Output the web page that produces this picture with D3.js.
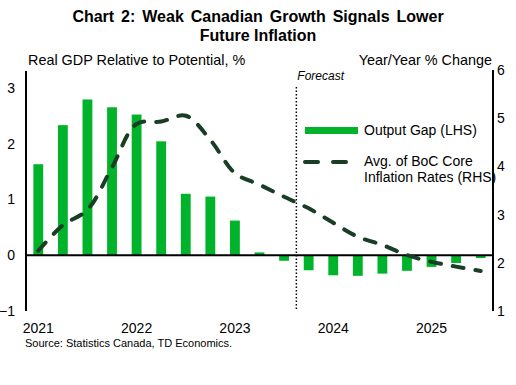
<!DOCTYPE html>
<html>
<head>
<meta charset="utf-8">
<script src="https://cdn.jsdelivr.net/npm/d3@7"></script>
<style>
  body { margin: 0; background: #fff; }
  text { font-family: "Liberation Sans", Arial, sans-serif; fill: #000; }
</style>
</head>
<body>
<div class="chart"></div>
<script>
// quarterly, 2021Q1 .. 2025Q3
var quarters = ["2021Q1","2021Q2","2021Q3","2021Q4","2022Q1","2022Q2","2022Q3","2022Q4",
                "2023Q1","2023Q2","2023Q3","2023Q4","2024Q1","2024Q2","2024Q3","2024Q4",
                "2025Q1","2025Q2","2025Q3"];
var outputGap = [1.63, 2.33, 2.79, 2.65, 2.52, 2.04, 1.10, 1.05, 0.62, 0.05,
                 -0.10, -0.27, -0.36, -0.37, -0.33, -0.28, -0.21, -0.14, -0.05];
var coreInflation = [2.25, 2.78, 3.10, 3.98, 4.88, 4.93, 5.05, 4.55, 3.86, 3.62,
                     3.37, 3.13, 2.83, 2.54, 2.37, 2.16, 2.02, 1.92, 1.83];
var yearLabels = {"2021Q1": "2021", "2022Q1": "2022", "2023Q1": "2023", "2024Q1": "2024", "2025Q1": "2025"};
var leftTicks = [-1, 0, 1, 2, 3];
var rightTicks = [1, 2, 3, 4, 5, 6];
var forecastStart = "2023Q4";

var width = 516, height = 385;
var margin = {top: 71, right: 23, bottom: 74, left: 26};
var fontFam = '"Liberation Sans", Arial, sans-serif';

function drawGraph() {
    var svg = d3.select('.chart')
      .append('svg')
        .attr('width', width)
        .attr('height', height);

    var x = d3.scaleBand()
        .domain(quarters)
        .range([margin.left, width - margin.right])
        .paddingInner(0.6)
        .paddingOuter(0.3);

    var yL = d3.scaleLinear().domain([-1, 3.3]).range([height - margin.bottom, margin.top]);
    var yR = d3.scaleLinear().domain([1, 6]).range([height - margin.bottom, margin.top - 1]);

    // titles
    svg.append('text').attr('x', 258).attr('y', 22).attr('text-anchor', 'middle')
        .style('font-size', '16px').style('font-weight', 'bold').style('word-spacing', '2.5px')
        .text('Chart 2: Weak Canadian Growth Signals Lower');
    svg.append('text').attr('x', 258).attr('y', 41).attr('text-anchor', 'middle')
        .style('font-size', '16px').style('font-weight', 'bold')
        .text('Future Inflation');
    svg.append('text').attr('x', 28).attr('y', 65).style('font-size', '14.4px')
        .text('Real GDP Relative to Potential, %');
    svg.append('text').attr('x', 492).attr('y', 65).attr('text-anchor', 'end').style('font-size', '14.4px')
        .text('Year/Year % Change');

    // bars
    svg.selectAll('.bar')
      .data(quarters)
      .enter()
      .append('rect')
        .attr('x', function(d) { return x(d); })
        .attr('width', x.bandwidth())
        .attr('y', function(d, i) { return yL(Math.max(0, outputGap[i])); })
        .attr('height', function(d, i) { return Math.abs(yL(outputGap[i]) - yL(0)); })
        .attr('fill', '#00b32a');

    // forecast divider
    var fx = x(forecastStart) - x.step() * x.paddingInner() / 2;
    svg.append('line')
        .attr('x1', fx).attr('x2', fx)
        .attr('y1', 87).attr('y2', yL(-1))
        .attr('stroke', '#000').attr('stroke-width', 1.5)
        .attr('stroke-dasharray', '1.5,2');
    svg.append('text').attr('x', fx + 1).attr('y', 80)
        .style('font-size', '12px').style('font-style', 'italic')
        .text('Forecast');

    // zero line and axes
    svg.append('line')
        .attr('x1', margin.left).attr('x2', width - margin.right)
        .attr('y1', yL(0)).attr('y2', yL(0))
        .attr('stroke', '#000').attr('stroke-width', 2);

    svg.append('g')
        .attr('transform', 'translate(' + margin.left + ',0)')
        .call(d3.axisLeft(yL).tickValues(leftTicks).tickFormat(d3.format('d')).tickSize(0).tickPadding(11))
        .call(function(g) {
            g.select('.domain').attr('stroke-width', 2).attr('d', 'M0,' + yL(3.3) + 'V' + yL(-1));
            g.selectAll('text').style('font-size', '14px').style('font-family', fontFam);
        });

    svg.append('g')
        .attr('transform', 'translate(' + (width - margin.right) + ',0)')
        .call(d3.axisRight(yR).tickValues(rightTicks).tickFormat(d3.format('d')).tickSize(0).tickPadding(4))
        .call(function(g) {
            g.select('.domain').attr('stroke-width', 2).attr('d', 'M0,' + yR(6) + 'V' + yR(1));
            g.selectAll('text').style('font-size', '14px').style('font-family', fontFam);
        });

    svg.append('g')
        .attr('transform', 'translate(0,' + (height - margin.bottom) + ')')
        .call(d3.axisBottom(x).tickSize(0).tickPadding(12)
            .tickFormat(function(d) { return yearLabels[d] || ''; }))
        .call(function(g) {
            g.select('.domain').remove();
            g.selectAll('text').style('font-size', '14px').style('font-family', fontFam);
        });

    // inflation line
    var line = d3.line()
        .x(function(d, i) { return x(quarters[i]) + x.bandwidth() / 2; })
        .y(function(d) { return yR(d); })
        .curve(d3.curveCatmullRom.alpha(0.5));

    svg.append('path')
        .datum(coreInflation)
        .attr('d', line)
        .attr('fill', 'none')
        .attr('stroke', '#1a3d25')
        .attr('stroke-width', 4)
        .attr('stroke-linecap', 'round')
        .attr('stroke-dasharray', '11,12');

    // legend
    svg.append('rect').attr('x', 305).attr('y', 127).attr('width', 53).attr('height', 7).attr('fill', '#00b32a');
    svg.append('text').attr('x', 364).attr('y', 135).style('font-size', '14px').text('Output Gap (LHS)');
    svg.append('line').attr('x1', 305).attr('x2', 346).attr('y1', 162).attr('y2', 162)
        .attr('stroke', '#1a3d25').attr('stroke-width', 4).attr('stroke-linecap', 'round')
        .attr('stroke-dasharray', '13,15');
    svg.append('text').attr('x', 364).attr('y', 166).style('font-size', '14px').text('Avg. of BoC Core');
    svg.append('text').attr('x', 364).attr('y', 182).style('font-size', '14px').text('Inflation Rates (RHS)');

    // source
    svg.append('text').attr('x', 25).attr('y', 347).style('font-size', '11px')
        .text('Source: Statistics Canada, TD Economics.');
}

drawGraph();
</script>
</body>
</html>
